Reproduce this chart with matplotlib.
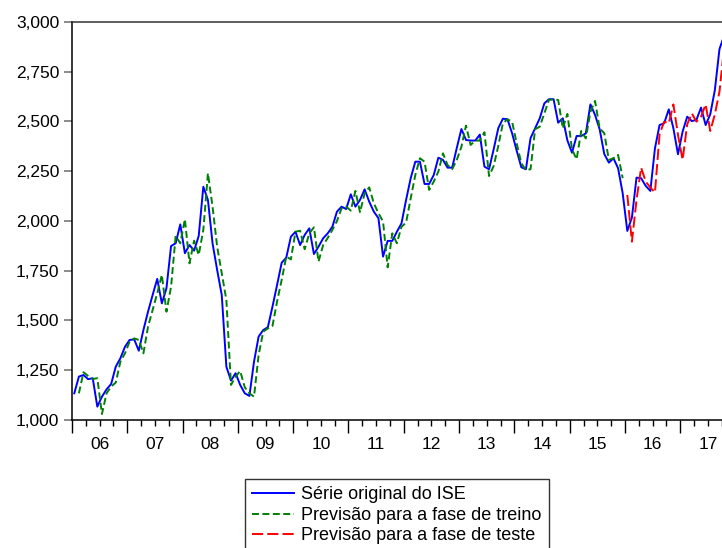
import numpy as np
import matplotlib
matplotlib.use("Agg")
import matplotlib.pyplot as plt
from matplotlib.ticker import FuncFormatter, MultipleLocator

# monthly ISE index, first observation 2006M01
start_year = 2006
ise = [1134, 1218, 1226, 1205, 1210, 1067, 1117, 1154, 1181, 1268, 1310, 1368,
       1402, 1405, 1348, 1452, 1544, 1628, 1709, 1586, 1662, 1874, 1888, 1983,
       1838, 1879, 1851, 1925, 2172, 2106, 1888, 1754, 1628, 1268, 1198, 1235,
       1176, 1134, 1121, 1293, 1419, 1452, 1466, 1569, 1678, 1790, 1816, 1921,
       1946, 1879, 1930, 1963, 1834, 1871, 1913, 1938, 1971, 2047, 2072, 2060,
       2134, 2072, 2106, 2159, 2097, 2047, 2014, 1821, 1900, 1900, 1946, 1988,
       2106, 2215, 2298, 2298, 2186, 2186, 2231, 2318, 2307, 2268, 2268, 2367,
       2462, 2407, 2404, 2404, 2434, 2273, 2260, 2360, 2466, 2514, 2511, 2441,
       2353, 2270, 2260, 2416, 2466, 2516, 2591, 2612, 2612, 2494, 2516, 2405,
       2343, 2427, 2427, 2440, 2586, 2533, 2461, 2337, 2293, 2315, 2265, 2139,
       1950, 2017, 2218, 2215, 2176, 2151, 2365, 2482, 2491, 2561, 2466, 2335,
       2449, 2524, 2502, 2508, 2570, 2482, 2536, 2658, 2864, 2930]

# training forecast, starts 2006M02
train_start = 1
train = [1134, 1240, 1221, 1206, 1210, 1030, 1134, 1168, 1188, 1293, 1335,
         1394, 1410, 1402, 1335, 1469, 1553, 1637, 1729, 1544, 1670, 1925, 1888,
         2009, 1787, 1901, 1829, 1955, 2240, 2072, 1871, 1737, 1603, 1176, 1218,
         1246, 1164, 1134, 1117, 1327, 1444, 1460, 1472, 1595, 1704, 1821, 1807,
         1946, 1951, 1858, 1938, 1968, 1796, 1879, 1915, 1955, 2000, 2064, 2072,
         2052, 2151, 2044, 2139, 2169, 2089, 2039, 1997, 1767, 1938, 1888, 1971,
         1992, 2114, 2231, 2315, 2298, 2156, 2198, 2248, 2340, 2281, 2260, 2307,
         2373, 2479, 2382, 2404, 2404, 2446, 2226, 2276, 2377, 2491, 2511, 2499,
         2390, 2290, 2256, 2260, 2461, 2474, 2541, 2608, 2612, 2608, 2466, 2538,
         2360, 2310, 2452, 2415, 2549, 2603, 2466, 2441, 2307, 2315, 2332, 2215]

# test forecast, starts 2016M01
test_start = 120
test = [2131, 1896, 2106, 2268, 2198, 2168, 2143, 2436, 2499, 2491, 2586,
        2432, 2307, 2486, 2541, 2499, 2524, 2586, 2452, 2536, 2650, 2870]

labels = ["Série original do ISE", "Previsão para a fase de treino",
          "Previsão para a fase de teste"]


def month_x(first, n):
    # observations drawn at the middle of their month
    return start_year + (first + np.arange(n) + 0.5) / 12.0


plt.rcParams['font.family'] = ['Liberation Sans', 'DejaVu Sans']
plt.rcParams['lines.scale_dashes'] = False

fig = plt.figure(figsize=(7.22, 5.48), dpi=100)
ax = fig.add_axes([0.0997, 0.2336, 0.9003, 0.7263])

ax.plot(month_x(0, len(ise)), ise, color='#0000ff', lw=1.4, label=labels[0])
ax.plot(month_x(train_start, len(train)), train, color='#008000', lw=1.4,
        dashes=(5, 2.5), label=labels[1])
ax.plot(month_x(test_start, len(test)), test, color='#ff0000', lw=1.4,
        dashes=(8, 3), label=labels[2])

ax.set_xlim(2006, 2006 + 650 / 55.3)
ax.set_ylim(1000, 3000)

ax.yaxis.set_major_locator(MultipleLocator(250))
ax.yaxis.set_major_formatter(FuncFormatter(lambda v, p: f"{int(v):,}"))
ax.tick_params(axis='y', direction='out', length=6, width=1.2, color='#777777',
               labelsize=12.5, pad=3)

ax.xaxis.set_major_locator(MultipleLocator(1))
ax.xaxis.set_minor_locator(MultipleLocator(0.25))
ax.xaxis.set_major_formatter(FuncFormatter(lambda v, p: ""))
ax.tick_params(axis='x', which='major', direction='out', length=9, width=1)
ax.tick_params(axis='x', which='minor', direction='out', length=4, width=1)
for yr in range(2006, 2018):
    ax.text(yr + 0.5, -0.042, f"{yr % 100:02d}", transform=ax.get_xaxis_transform(),
            ha='center', va='top', fontsize=12.5, clip_on=False)

ax.spines['right'].set_visible(False)
for side in ['left', 'top', 'bottom']:
    ax.spines[side].set_linewidth(1.1)
ax.spines['top'].set_color('#333333')

leg = ax.legend(loc='upper left', bbox_to_anchor=(245 / 722, 69 / 548),
                bbox_transform=fig.transFigure, fontsize=13, frameon=True,
                fancybox=False, edgecolor='black', handlelength=2.3,
                handletextpad=0.4, borderpad=0.4, labelspacing=0.2,
                borderaxespad=0)
leg.get_frame().set_linewidth(1.0)

fig.savefig("out.png", dpi=100)
